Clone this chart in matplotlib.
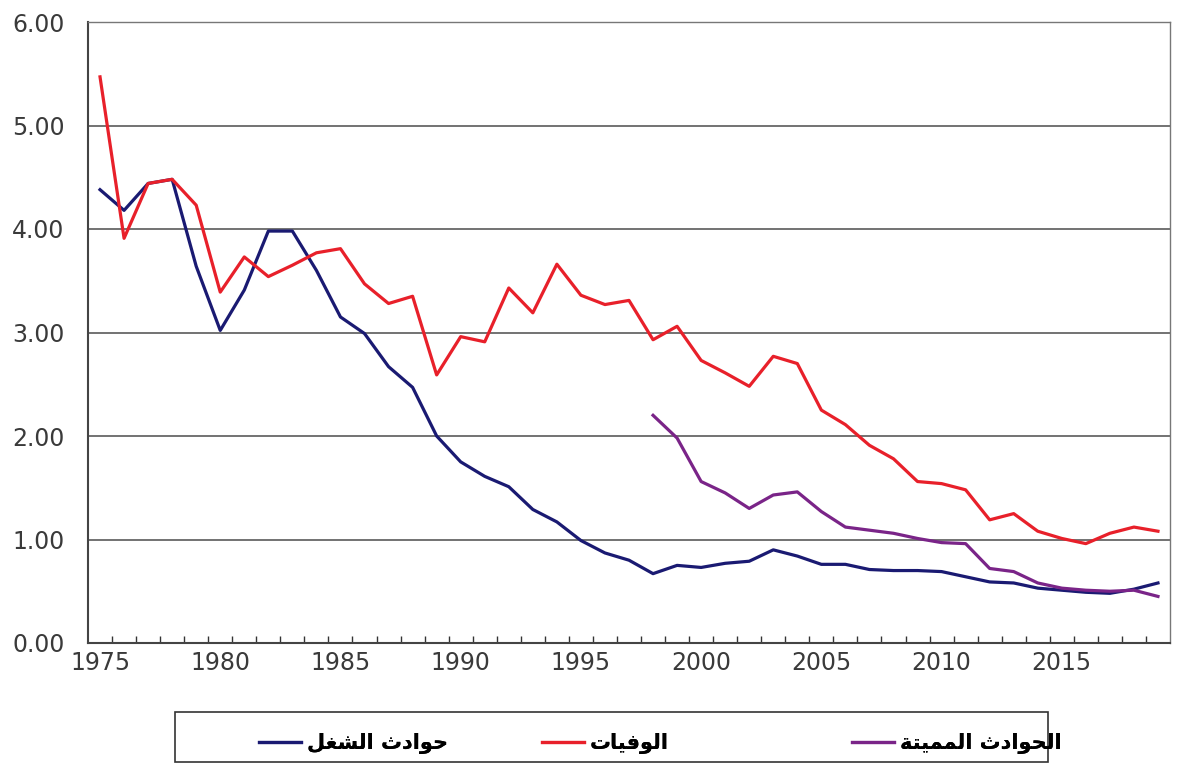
import matplotlib

matplotlib.use("Agg")
import matplotlib.pyplot as plt
from matplotlib.lines import Line2D
from matplotlib.patches import Rectangle

# ---- data ----
years = list(range(1975, 2020))

work_accidents = [
    4.38, 4.18, 4.44, 4.48, 3.64, 3.02, 3.41, 3.98, 3.98, 3.60,
    3.15, 2.99, 2.67, 2.47, 2.00, 1.75, 1.61, 1.51, 1.29, 1.17,
    0.99, 0.87, 0.80, 0.67, 0.75, 0.73, 0.77, 0.79, 0.90, 0.84,
    0.76, 0.76, 0.71, 0.70, 0.70, 0.69, 0.64, 0.59, 0.58, 0.53,
    0.51, 0.49, 0.48, 0.52, 0.58,
]
deaths = [
    5.47, 3.91, 4.44, 4.48, 4.23, 3.39, 3.73, 3.54, 3.65, 3.77,
    3.81, 3.47, 3.28, 3.35, 2.59, 2.96, 2.91, 3.43, 3.19, 3.66,
    3.36, 3.27, 3.31, 2.93, 3.06, 2.73, 2.61, 2.48, 2.77, 2.70,
    2.25, 2.11, 1.91, 1.78, 1.56, 1.54, 1.48, 1.19, 1.25, 1.08,
    1.01, 0.96, 1.06, 1.12, 1.08,
]
fatal_years = list(range(1998, 2020))
fatal_accidents = [
    2.20, 1.98, 1.56, 1.45, 1.30, 1.43, 1.46, 1.27, 1.12, 1.09,
    1.06, 1.01, 0.97, 0.96, 0.72, 0.69, 0.58, 0.53, 0.51, 0.50,
    0.51, 0.45,
]

label_work = "حوادث الشغل"
label_deaths = "الوفيات"
label_fatal = "الحوادث المميتة"

y_ticks = [0, 1, 2, 3, 4, 5, 6]
x_ticks = [1975, 1980, 1985, 1990, 1995, 2000, 2005, 2010, 2015]

# ---- minimal Arabic shaping (matplotlib has no shaping / bidi) ----
# letter: (isolated, final, initial, medial); None = does not join forward
FORMS = {
    "ا": ("\ufe8d", "\ufe8e", None, None),
    "ل": ("\ufedd", "\ufede", "\ufedf", "\ufee0"),
    "ح": ("\ufea1", "\ufea2", "\ufea3", "\ufea4"),
    "و": ("\ufeed", "\ufeee", None, None),
    "د": ("\ufea9", "\ufeaa", None, None),
    "ث": ("\ufe99", "\ufe9a", "\ufe9b", "\ufe9c"),
    "ش": ("\ufeb5", "\ufeb6", "\ufeb7", "\ufeb8"),
    "غ": ("\ufecd", "\ufece", "\ufecf", "\ufed0"),
    "ف": ("\ufed1", "\ufed2", "\ufed3", "\ufed4"),
    "ي": ("\ufef1", "\ufef2", "\ufef3", "\ufef4"),
    "ت": ("\ufe95", "\ufe96", "\ufe97", "\ufe98"),
    "م": ("\ufee1", "\ufee2", "\ufee3", "\ufee4"),
    "ة": ("\ufe93", "\ufe94", None, None),
}


def shape(text):
    out = []
    for i, ch in enumerate(text):
        if ch not in FORMS:
            out.append(ch)
            continue
        prev = text[i - 1] if i > 0 else ""
        nxt = text[i + 1] if i + 1 < len(text) else ""
        joins_prev = prev in FORMS and FORMS[prev][2] is not None
        joins_next = nxt in FORMS and FORMS[ch][2] is not None
        iso, fin, ini, med = FORMS[ch]
        if joins_prev and joins_next:
            out.append(med)
        elif joins_prev:
            out.append(fin)
        elif joins_next:
            out.append(ini)
        else:
            out.append(iso)
    return "".join(out)[::-1]


# ---- plot ----
c_work = "#1a1a72"
c_deaths = "#e8202a"
c_fatal = "#7a2488"
grid_c = "#5a5a5a"
text_c = "#3a3a3a"
W, H = 1194, 769

fig = plt.figure(figsize=(W / 100, H / 100), dpi=100)
ax = fig.add_axes([88 / W, 1 - 643 / H, (1170 - 88) / W, (643 - 22) / H])

ax.plot(years, work_accidents, color=c_work, linewidth=2.3, zorder=3)
ax.plot(years, deaths, color=c_deaths, linewidth=2.3, zorder=3)
ax.plot(fatal_years, fatal_accidents, color=c_fatal, linewidth=2.3, zorder=3)

ax.set_xlim(1974.5, 2019.5)
ax.set_ylim(0, 6)
ax.set_yticks(y_ticks)
ax.set_yticklabels([f"{v:.2f}" for v in y_ticks], fontsize=17, color=text_c)
ax.set_xticks(x_ticks)
ax.set_xticklabels([str(y) for y in x_ticks], fontsize=17, color=text_c)
ax.set_xticks([y + 0.5 for y in years[:-1]], minor=True)
ax.tick_params(axis="x", which="major", length=0, pad=6)
ax.tick_params(axis="x", which="minor", direction="in", length=5, width=1, color="#333333")
ax.tick_params(axis="y", length=0, pad=17)

ax.grid(axis="y", color=grid_c, linewidth=1.2, zorder=1)
ax.set_axisbelow(True)
for name, spine in ax.spines.items():
    spine.set_color("#444444" if name in ("left", "bottom") else "#777777")
    spine.set_linewidth(1.5 if name in ("left", "bottom") else 1.0)

# legend: one framed box with three entries placed along it
fig.add_artist(Rectangle((175 / W, 1 - 762 / H), (1048 - 175) / W, 50 / H,
                         transform=fig.transFigure, facecolor="white",
                         edgecolor="#333333", linewidth=1.2))
entries = [
    (c_work, label_work, 255),
    (c_deaths, label_deaths, 538),
    (c_fatal, label_fatal, 848),
]
for color, label, x0 in entries:
    leg = fig.legend(
        [Line2D([], [], color=color, linewidth=2.3)], [shape(label)],
        loc="center left", bbox_to_anchor=(x0 / W, 1 - 744 / H),
        frameon=False, prop={"family": "DejaVu Sans", "weight": "bold", "size": 15},
        handlelength=2.0, handletextpad=0.3, borderpad=0.2, borderaxespad=0,
    )
    fig.add_artist(leg)

fig.savefig("out.png", dpi=100, facecolor="white")
